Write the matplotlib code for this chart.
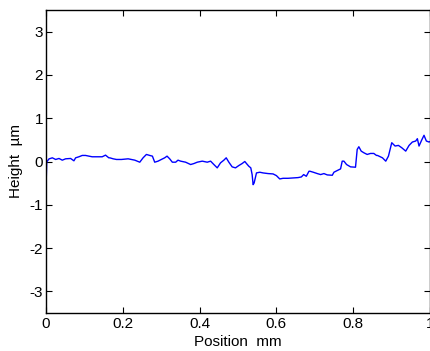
import matplotlib
matplotlib.use("Agg")
import matplotlib.pyplot as plt

plt.rcParams['font.family'] = ['Liberation Sans', 'DejaVu Sans']

position_mm = [
    0.0000, 0.0020, 0.0035, 0.0078, 0.0165, 0.0251, 0.0338, 0.0424, 0.0511, 0.0641,
    0.0727, 0.0771, 0.0857, 0.0944, 0.1030, 0.1117, 0.1203, 0.1333, 0.1463, 0.1550,
    0.1636, 0.1662, 0.1749, 0.1835, 0.1965, 0.2139, 0.2312, 0.2442, 0.2528, 0.2615,
    0.2701, 0.2771, 0.2831, 0.2918, 0.3004, 0.3091, 0.3152, 0.3221, 0.3290, 0.3377,
    0.3437, 0.3506, 0.3636, 0.3766, 0.3853, 0.3939, 0.4069, 0.4199, 0.4286, 0.4372,
    0.4459, 0.4545, 0.4632, 0.4693, 0.4762, 0.4848, 0.4935, 0.5022, 0.5108, 0.5177,
    0.5221, 0.5281, 0.5333, 0.5368, 0.5394, 0.5420, 0.5481, 0.5567, 0.5654, 0.5784,
    0.5913, 0.6000, 0.6087, 0.6173, 0.6303, 0.6433, 0.6563, 0.6649, 0.6710, 0.6779,
    0.6848, 0.6874, 0.6961, 0.7065, 0.7152, 0.7238, 0.7325, 0.7455, 0.7498, 0.7584,
    0.7671, 0.7714, 0.7758, 0.7827, 0.7931, 0.8060, 0.8104, 0.8147, 0.8208, 0.8277,
    0.8364, 0.8450, 0.8537, 0.8606, 0.8632, 0.8762, 0.8848, 0.8918, 0.9004, 0.9091,
    0.9177, 0.9264, 0.9368, 0.9455, 0.9541, 0.9628, 0.9671, 0.9714, 0.9784, 0.9844,
    0.9905, 0.9974, 1.0000,
]
height_um = [
    -0.60, 0.00, 0.01, 0.06, 0.085, 0.047, 0.07, 0.031, 0.062, 0.07,
    0.016, 0.085, 0.109, 0.14, 0.14, 0.124, 0.109, 0.109, 0.109, 0.147,
    0.085, 0.085, 0.062, 0.047, 0.047, 0.062, 0.031, -0.016, 0.085, 0.163,
    0.14, 0.124, -0.016, 0.008, 0.047, 0.085, 0.124, 0.062, -0.016, -0.016,
    0.031, 0.008, -0.016, -0.07, -0.047, -0.016, 0.008, -0.016, 0.008, -0.07,
    -0.147, -0.031, 0.031, 0.085, -0.016, -0.124, -0.147, -0.093, -0.047, 0.0,
    -0.047, -0.109, -0.147, -0.302, -0.535, -0.496, -0.264, -0.248, -0.264, -0.279,
    -0.287, -0.326, -0.403, -0.388, -0.388, -0.38, -0.372, -0.357, -0.302, -0.341,
    -0.225, -0.225, -0.248, -0.279, -0.302, -0.279, -0.31, -0.318, -0.248, -0.209,
    -0.171, 0.008, 0.008, -0.07, -0.124, -0.132, 0.279, 0.341, 0.24, 0.202,
    0.163, 0.186, 0.186, 0.14, 0.14, 0.085, 0.008, 0.124, 0.434, 0.357,
    0.372, 0.318, 0.24, 0.372, 0.45, 0.473, 0.527, 0.357, 0.496, 0.605,
    0.473, 0.45, 0.46,
]

x_ticks = [0, 0.2, 0.4, 0.6, 0.8, 1]
x_tick_labels = ['0', '0.2', '0.4', '0.6', '0.8', '1']
y_ticks = [-3, -2, -1, 0, 1, 2, 3]
y_tick_labels = ['-3', '-2', '-1', '0', '1', '2', '3']

W, H = 431, 351
fig = plt.figure(figsize=(W / 100, H / 100), dpi=100)
ax = fig.add_axes([46 / W, (H - 313) / H, (430 - 46) / W, (313 - 10) / H])

ax.plot(position_mm, height_um, color='#0000ff', linewidth=1.0)

ax.set_xlim(0, 1)
ax.set_ylim(-3.5, 3.5)
ax.set_xticks(x_ticks)
ax.set_xticklabels(x_tick_labels)
ax.set_yticks(y_ticks)
ax.set_yticklabels(y_tick_labels)
ax.tick_params(direction='in', length=4, width=0.8, labelsize=11,
               top=True, right=True)
ax.tick_params(axis='x', pad=3)
ax.tick_params(axis='y', pad=2)
for s in ax.spines.values():
    s.set_linewidth(1.0)

ax.set_xlabel('Position  mm', fontsize=11, labelpad=3)
ax.set_ylabel('Height  \u00b5m', fontsize=11, labelpad=5)

fig.savefig('out.png', dpi=100)
